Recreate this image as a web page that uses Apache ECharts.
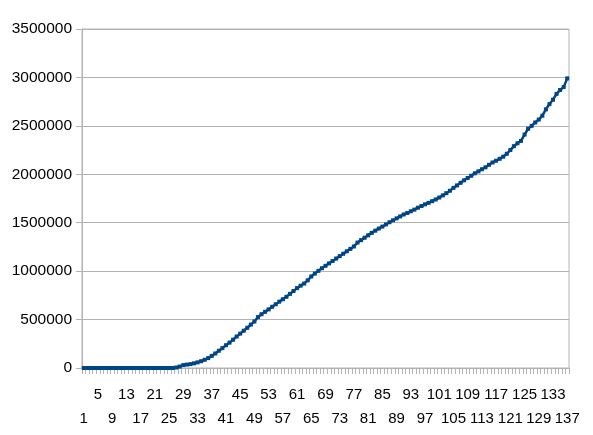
<!DOCTYPE html>
<html>
<head>
<meta charset="utf-8">
<script src="https://cdn.jsdelivr.net/npm/echarts@6/dist/echarts.min.js"></script>
<style>
html,body{margin:0;padding:0;background:#fff;}
#chart{width:593px;height:435px;}
</style>
</head>
<body>
<div id="chart"></div>
<script>
// Categories 1..137 (day index)
var categories = [];
for (var c = 1; c <= 137; c++) categories.push(String(c));

// Series values
var seriesValues = [
  0,0,0,0,0,0,0,0,0,0,
  0,0,0,0,0,0,0,0,0,0,
  0,0,0,0,0,0,5000,15000,30000,35000,
  40000,48000,58000,70000,85000,102000,125000,150000,178000,205000,
  235000,262000,292000,325000,355000,385000,415000,448000,480000,525000,
  555000,580000,605000,632000,658000,685000,710000,735000,765000,795000,
  825000,850000,872000,905000,945000,975000,1003000,1030000,1055000,1080000,
  1105000,1130000,1155000,1180000,1205000,1230000,1255000,1295000,1320000,1345000,
  1370000,1395000,1418000,1440000,1460000,1482000,1505000,1525000,1545000,1565000,
  1585000,1600000,1618000,1635000,1655000,1672000,1690000,1705000,1722000,1740000,
  1760000,1782000,1805000,1830000,1860000,1885000,1912000,1938000,1962000,1985000,
  2010000,2030000,2052000,2072000,2098000,2122000,2140000,2160000,2182000,2212000,
  2250000,2290000,2320000,2345000,2410000,2470000,2500000,2535000,2565000,2605000,
  2670000,2725000,2770000,2830000,2870000,2900000,2990000
];

// Y tick settings
var yMin = 0, yMax = 3500000, yInterval = 500000;

var chart = echarts.init(document.getElementById('chart'), null, {renderer: 'canvas'});
var gridColor = '#b3b3b3';
var font = 'Liberation Sans, Arial, sans-serif';

function labelStyle(margin, pick) {
  return {
    interval: pick,
    showMinLabel: true,
    showMaxLabel: true,
    hideOverlap: false,
    margin: margin,
    fontSize: 15,
    fontFamily: font,
    color: '#000'
  };
}

chart.setOption({
  animation: false,
  backgroundColor: '#ffffff',
  grid: {left: 82, right: 24, top: 29, bottom: 67, show: true, borderColor: gridColor, borderWidth: 1, backgroundColor: 'transparent'},
  xAxis: [{
    type: 'category',
    data: categories,
    boundaryGap: true,
    position: 'bottom',
    axisLine: {show: true, lineStyle: {color: gridColor, width: 1}},
    axisTick: {show: true, interval: 0, length: 6, lineStyle: {color: gridColor}},
    axisLabel: labelStyle(19, function (index) { return index % 8 === 4; }),
    splitLine: {show: false}
  }, {
    type: 'category',
    data: categories,
    boundaryGap: true,
    position: 'bottom',
    offset: 0,
    axisLine: {show: false},
    axisTick: {show: false},
    axisLabel: labelStyle(43, function (index) { return index % 8 === 0; }),
    splitLine: {show: false}
  }],
  yAxis: {
    type: 'value',
    min: yMin,
    max: yMax,
    interval: yInterval,
    axisLine: {show: true, lineStyle: {color: gridColor, width: 1}},
    axisTick: {show: true, length: 6, lineStyle: {color: gridColor}},
    axisLabel: {margin: 10, fontSize: 15.5, fontFamily: font, color: '#000',
      formatter: function (v) { return String(v); }},
    splitLine: {show: true, lineStyle: {color: gridColor, width: 1}}
  },
  series: [{
    type: 'line',
    xAxisIndex: 0,
    data: seriesValues,
    showSymbol: true,
    showAllSymbol: true,
    symbol: 'rect',
    symbolSize: 4,
    lineStyle: {color: '#004586', width: 2.5},
    itemStyle: {color: '#004586'},
    z: 3
  }]
});
</script>
</body>
</html>
